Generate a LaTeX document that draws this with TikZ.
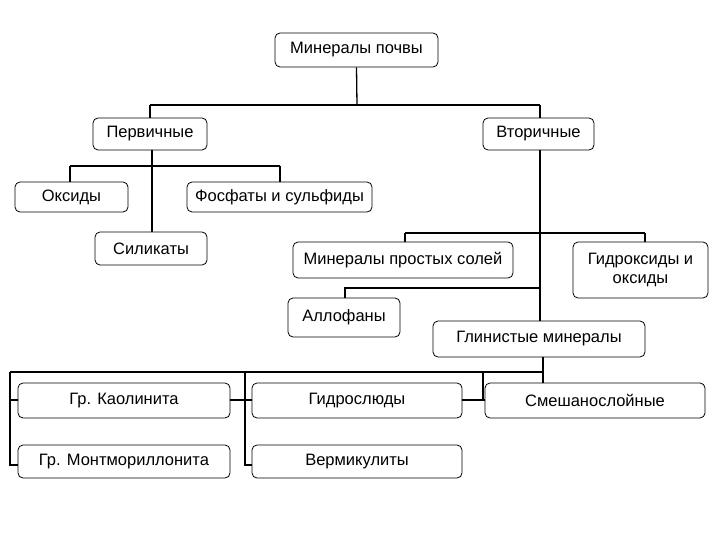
\documentclass[tikz,border=0pt]{standalone}
\usepackage{fontspec}
\setmainfont{Liberation Sans}
\begin{document}
\begin{tikzpicture}[x=1pt,y=-1pt,
  box/.style={draw,rounded corners=5pt,line width=0.8pt,fill=white,inner sep=0pt,font=\fontsize{16.5}{19}\selectfont,align=center},
  ln/.style={line width=1.3pt}]
\useasboundingbox (0,0) rectangle (720,540);
\newcommand\bx[6]{\node[box,minimum width=#4-#2,minimum height=#5-#3] (#1) at ({(#2+#4)/2},{(#3+#5)/2}) {#6};}
\coordinate (c1) at (357,105);
\coordinate (c1l) at (150,105);
\coordinate (c1r) at (540,105);
\coordinate (p1) at (152,166);
\coordinate (p1l) at (70,166);
\coordinate (p1r) at (280,166);
\coordinate (v1) at (540,233);
\coordinate (v1l) at (405,233);
\coordinate (v1r) at (645,233);
\coordinate (v2) at (540,288);
\coordinate (v2l) at (345,288);
\coordinate (g1) at (543,372);
\coordinate (gL) at (10,372);
\coordinate (gM) at (245,372);
\coordinate (gR) at (483,372);
\coordinate (gL1) at (10,400);
\coordinate (gL2) at (10,465);
\coordinate (gM1) at (245,400);
\coordinate (gM2) at (245,465);
\coordinate (gR1) at (483,400);
\bx{root}{275}{33}{438}{67}{Минералы почвы}
\bx{perv}{93}{118}{207}{150}{Первичные}
\bx{vtor}{483}{118}{594}{150}{Вторичные}
\bx{oks}{15}{182}{128}{212}{Оксиды}
\bx{fos}{187}{182}{372}{212}{Фосфаты и сульфиды}
\bx{sil}{95}{232}{207}{265}{Силикаты}
\bx{mps}{293}{242}{513}{278}{Минералы простых солей}
\bx{gid}{573}{242}{708}{298}{Гидроксиды и\\оксиды}
\bx{all}{288}{298}{400}{337}{Аллофаны}
\bx{gli}{433}{321}{645}{357}{Глинистые минералы}
\bx{kao}{18}{383}{230}{418}{Гр. Каолинита}
\bx{gsl}{252}{383}{462}{418}{Гидрослюды}
\bx{sme}{485}{383}{705}{418}{Смешанослойные}
\bx{mon}{18}{445}{230}{478}{Гр. Монтмориллонита}
\bx{ver}{252}{445}{462}{478}{Вермикулиты}
\draw[ln] (root.south) -- (c1);
\draw[ln] (c1l) -- (c1r);
\draw[ln] (c1l) -- (perv.north -| c1l);
\draw[ln] (c1r) -- (vtor.north -| c1r);
\draw[ln] (perv.south -| p1) -- (sil.north -| p1);
\draw[ln] (p1l) -- (p1r);
\draw[ln] (p1l) -- (oks.north -| p1l);
\draw[ln] (p1r) -- (fos.north -| p1r);
\draw[ln] (vtor.south -| v1) -- (gli.north -| v1);
\draw[ln] (v1l) -- (v1r);
\draw[ln] (v1l) -- (mps.north -| v1l);
\draw[ln] (v1r) -- (gid.north -| v1r);
\draw[ln] (v2) -- (v2l) -- (all.north -| v2l);
\draw[ln] (gli.south -| g1) -- (sme.north -| g1);
\draw[ln] (gL) -- (g1);
\draw[ln] (gL) -- (gL2) -- (mon.west |- gL2);
\draw[ln] (gL1) -- (kao.west |- gL1);
\draw[ln] (gM) -- (gM2) -- (ver.west |- gM2);
\draw[ln] (kao.east |- gM1) -- (gsl.west |- gM1);
\draw[ln] (gR) -- (gR1);
\draw[ln] (gsl.east |- gR1) -- (sme.west |- gR1);
\end{tikzpicture}
\end{document}
